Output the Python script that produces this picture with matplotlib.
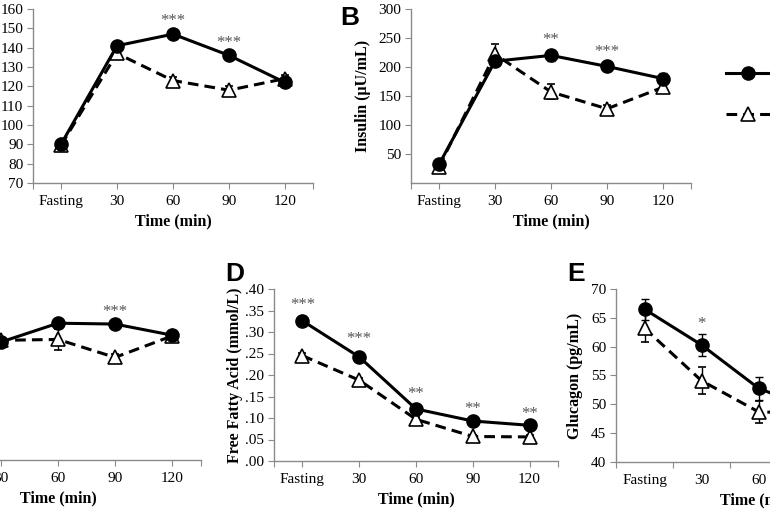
import matplotlib
matplotlib.use("Agg")
import matplotlib.pyplot as plt
from matplotlib.lines import Line2D

plt.rcParams["font.family"] = ["Liberation Serif", "DejaVu Serif"]

W, H = 770, 513

categories = ["Fasting", "30", "60", "90", "120"]
groups = ["Control", "Intervention"]

# A - glucose
glu_solid = [90, 141, 147, 136, 122]
glu_solid_err = [1.5, 2, 2, 2, 2]
glu_dash = [89.5, 137, 123, 118, 124]
glu_dash_err = [1.5, 2, 2, 2, 2]
glu_stars = {2: ("***", 155.8), 3: ("***", 144.4)}

# B - insulin
ins_solid = [32, 210, 220, 201, 180]
ins_solid_err = [4, 6, 10, 8, 10]
ins_dash = [28, 222, 157, 128, 165]
ins_dash_err = [4, 17, 13, 6, 10]
ins_stars = {2: ("**", 254), 3: ("***", 233)}

# C - (left part cropped)
c_solid = [4.2, 6.9, 8.0, 7.95, 7.3]
c_solid_err = [0.2, 0.2, 0.2, 0.2, 0.2]
c_dash = [4.0, 7.0, 7.05, 6.0, 7.25]
c_dash_err = [0.2, 0.2, 0.6, 0.2, 0.2]
c_stars = {3: ("***", 8.9)}

# D - free fatty acid
ffa_solid = [0.326, 0.242, 0.121, 0.093, 0.083]
ffa_solid_err = [0.01, 0.008, 0.006, 0.005, 0.005]
ffa_dash = [0.245, 0.188, 0.097, 0.057, 0.056]
ffa_dash_err = [0.006, 0.006, 0.005, 0.004, 0.004]
ffa_stars = {0: ("***", 0.372), 1: ("***", 0.293), 2: ("**", 0.167),
             3: ("**", 0.130), 4: ("**", 0.119)}

# E - glucagon
gcg_solid = [66.5, 60.3, 52.8, 48.9, 47.5]
gcg_solid_err = [1.8, 1.9, 2.0, 1.8, 1.8]
gcg_dash = [63.2, 54.1, 48.7, 48.4, 47.0]
gcg_dash_err = [2.4, 2.3, 1.9, 1.8, 1.8]
gcg_stars = {1: ("*", 64.6)}

fig = plt.figure(figsize=(W / 100, H / 100), dpi=100)


def px_axes(left, top, right, bottom):
    return fig.add_axes([left / W, 1 - bottom / H, (right - left) / W, (bottom - top) / H])


def draw_panel(ax, solid, solid_err, dash, dash_err, stars, between_ticks=False):
    x = [i + 0.5 for i in range(len(categories))]
    ax.errorbar(x, dash, yerr=dash_err, color="black", lw=2.2, ls=(0, (3.5, 2)),
                marker="^", ms=10, mfc="white", mec="black", mew=1.2,
                elinewidth=1, capsize=3, capthick=1, ecolor="black", zorder=3)
    ax.errorbar(x, solid, yerr=solid_err, color="black", lw=2.2, ls="-",
                marker="o", ms=9.5, mfc="black", mec="black",
                elinewidth=1, capsize=3, capthick=1, ecolor="black", zorder=4)
    for i, (txt, yv) in stars.items():
        ax.annotate(txt, (x[i], yv), xytext=(0, -6), textcoords="offset points",
                    ha="center", va="baseline", fontsize=12, color="#555555")
    ax.set_xlim(0, len(categories))
    if between_ticks:
        ax.set_xticks(range(len(categories) + 1))
        ax.set_xticklabels([])
        ax.set_xticks(x, minor=True)
        ax.set_xticklabels(categories, minor=True)
        ax.tick_params(axis="x", which="minor", length=0, pad=8.5, labelsize=11)
    else:
        ax.set_xticks([0] + x + [len(categories)])
        ax.set_xticklabels([""] + categories + [""])
    for s in ["top", "right"]:
        ax.spines[s].set_visible(False)
    for s in ["left", "bottom"]:
        ax.spines[s].set_color("#8a8a8a")
        ax.spines[s].set_linewidth(1)
    ax.tick_params(axis="both", which="major", direction="out", length=4,
                   color="#8a8a8a", labelsize=11, pad=3)
    ax.tick_params(axis="x", which="major", pad=4.5)
    ax.set_xlabel("Time (min)", fontsize=11.5, fontweight="bold")
    ax.xaxis.set_label_coords(0.5, -30 / (ax.get_position().height * H))
    ax.patch.set_alpha(0)


def set_ylabel(ax, text, offset_px):
    ax.set_ylabel(text, fontsize=11.5, fontweight="bold")
    ax.yaxis.set_label_coords(-offset_px / (ax.get_position().width * W), 0.5)


# A
axA = px_axes(33, 9, 313, 183)
draw_panel(axA, glu_solid, glu_solid_err, glu_dash, glu_dash_err, glu_stars)
axA.set_ylim(70, 160)
axA.set_yticks(range(70, 161, 10))

# B
axB = px_axes(411, 9, 691, 183)
draw_panel(axB, ins_solid, ins_solid_err, ins_dash, ins_dash_err, ins_stars)
axB.set_ylim(0, 300)
axB.set_yticks(range(50, 301, 50))
set_ylabel(axB, "Insulin (\u03bcU/mL)", 40)

# C
axC = px_axes(-84.5, 289, 200.5, 460)
draw_panel(axC, c_solid, c_solid_err, c_dash, c_dash_err, c_stars)
axC.set_ylim(0, 10)

# D
axD = px_axes(274, 289, 558, 461)
draw_panel(axD, ffa_solid, ffa_solid_err, ffa_dash, ffa_dash_err, ffa_stars)
axD.set_ylim(0, 0.40)
ffa_ticks = [i * 0.05 for i in range(9)]
axD.set_yticks(ffa_ticks)
axD.set_yticklabels([("%.2f" % t)[1:] for t in ffa_ticks])
set_ylabel(axD, "Free Fatty Acid (mmol/L)", 31)

# E
axE = px_axes(616, 289, 901, 462)
draw_panel(axE, gcg_solid, gcg_solid_err, gcg_dash, gcg_dash_err, gcg_stars,
           between_ticks=True)
axE.set_ylim(40, 70)
axE.set_yticks(range(40, 71, 5))
set_ylabel(axE, "Glucagon (pg/mL)", 33)

# panel letters
for letter, (lx, ly) in {"B": (340, 25), "D": (225, 281), "E": (567, 281)}.items():
    fig.text(lx / W, 1 - ly / H, letter, fontsize=19, fontweight="bold",
             family="Liberation Sans", va="baseline", ha="left")

# legend (labels fall outside the crop)
handles = [
    Line2D([], [], color="black", lw=2.2, marker="o", ms=9.5, mfc="black"),
    Line2D([], [], color="black", lw=2.2, ls=(0, (3.5, 2)), marker="^", ms=10,
           mfc="white", mec="black", mew=1.2),
]
fig.legend(handles, groups, loc="upper left", bbox_to_anchor=(726 / W, 1 - 68 / H),
           frameon=False, fontsize=11, handlelength=2.9, handletextpad=0.8,
           labelspacing=1.79, borderpad=0, borderaxespad=0)

fig.savefig("out.png", dpi=100)
